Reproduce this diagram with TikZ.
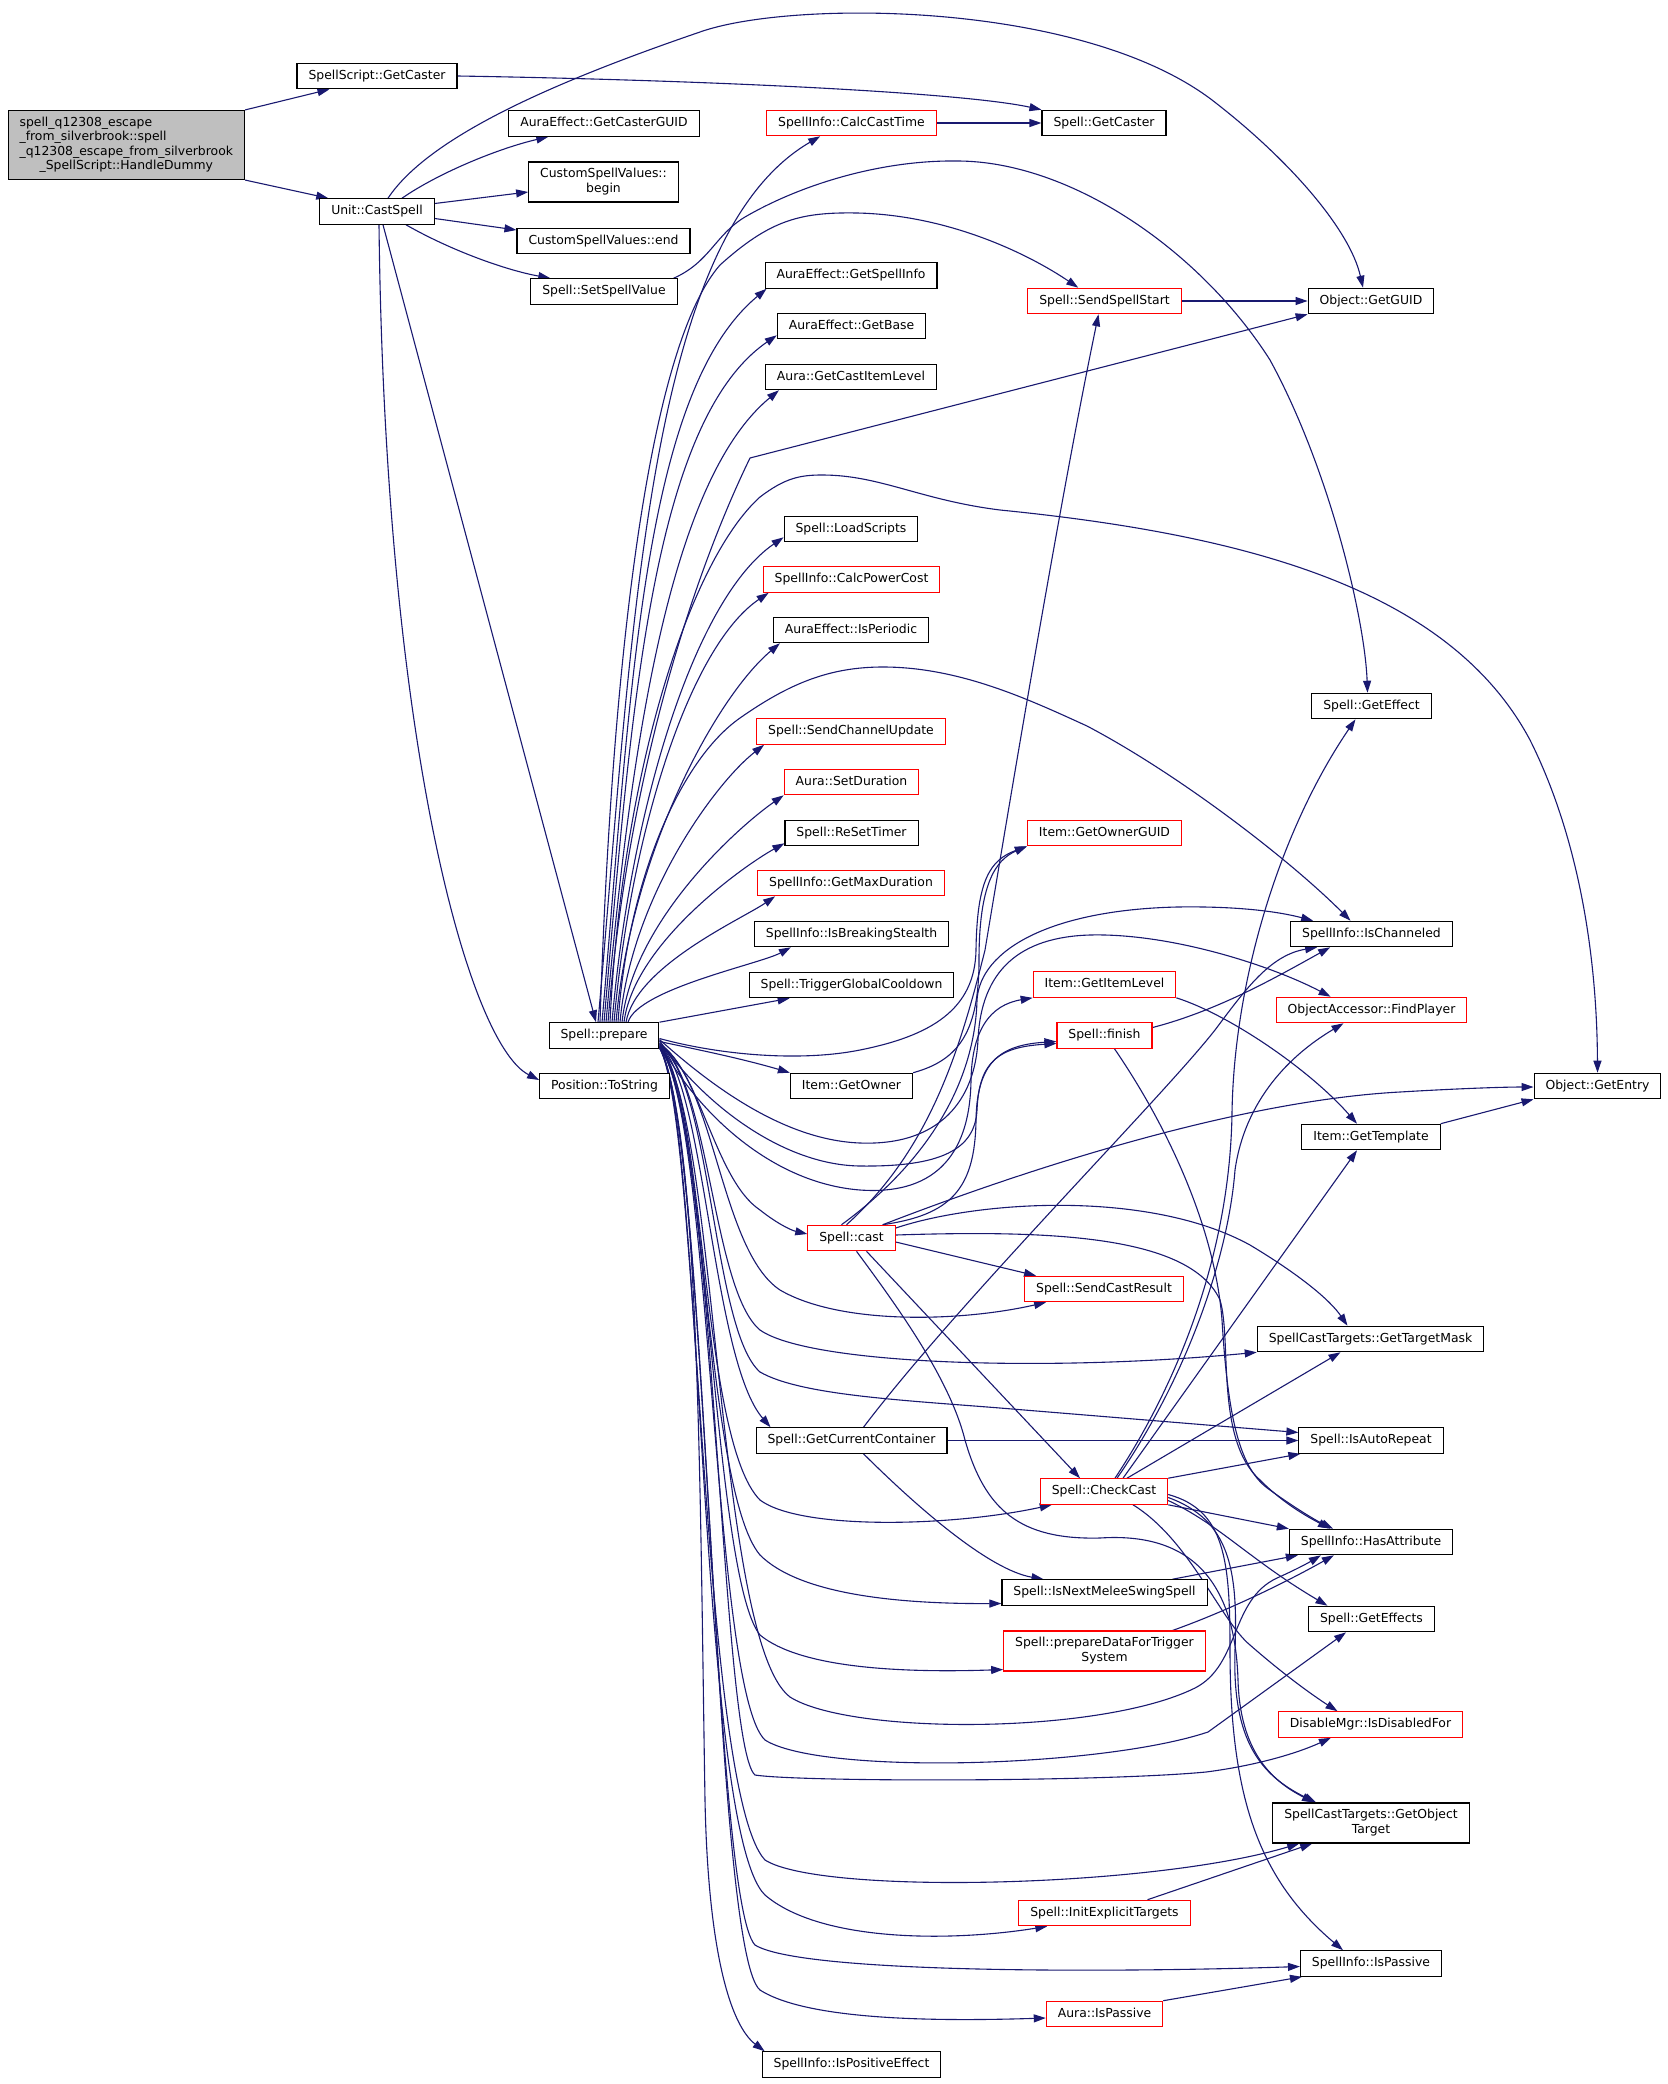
\documentclass[tikz,border=0pt]{standalone}
\usepackage{fontspec}
\setmainfont{DejaVu Sans}
\usetikzlibrary{arrows.meta,backgrounds}
\definecolor{edgec}{RGB}{25,25,112}
\definecolor{rootg}{RGB}{191,191,191}
\newcommand\gfont{\fontsize{12.4pt}{14.5pt}\selectfont}
\begin{document}
\begin{tikzpicture}[x=1pt,y=-1pt,
  nbox/.style={draw=black, line width=1.1pt, fill=white, inner xsep=11.5pt, inner ysep=0pt,
    minimum height=25.5pt, text height=9.4pt, text depth=2.6pt, font=\gfont},
  rbox/.style={nbox, draw=red},
  mline/.style={text height=, text depth=, inner ysep=5.5pt},
  conn/.style={draw=edgec, line width=1.1pt, -{Triangle[length=12pt,width=8pt]}}]
\useasboundingbox (0,0) rectangle (1667,2084);
% ---------- nodes ----------
\node[nbox, fill=rootg, mline] (root) at (126.3,145) {\begin{tabular}{@{}l@{}}spell\_q12308\_escape\\ \_from\_silverbrook::spell\\ \_q12308\_escape\_from\_silverbrook\\ \multicolumn{1}{@{}c@{}}{\_SpellScript::HandleDummy}\end{tabular}};
\node[nbox] (sgc) at (377,76) {SpellScript::GetCaster};
\node[nbox] (cast0) at (377,211.5) {Unit::CastSpell};
\node[nbox] (cguid) at (604,123.5) {AuraEffect::GetCasterGUID};
\node[nbox, mline] (begin) at (603.5,182) {\begin{tabular}{@{}l@{}}CustomSpellValues::\\ \multicolumn{1}{@{}c@{}}{begin}\end{tabular}};
\node[nbox] (endn) at (603.5,241) {CustomSpellValues::end};
\node[nbox] (ssv) at (604,291.5) {Spell::SetSpellValue};
\node[rbox] (cct) at (851.5,123) {SpellInfo::CalcCastTime};
\node[nbox] (gcaster) at (1104,123) {Spell::GetCaster};
\node[nbox] (gsi) at (851,275.5) {AuraEffect::GetSpellInfo};
\node[rbox] (sss) at (1104.5,301) {Spell::SendSpellStart};
\node[nbox] (guid) at (1371,301) {Object::GetGUID};
\node[nbox] (gbase) at (851.5,326) {AuraEffect::GetBase};
\node[nbox] (gcil) at (851,377) {Aura::GetCastItemLevel};
\node[nbox] (ls) at (851,529) {Spell::LoadScripts};
\node[rbox] (cpc) at (851.5,579.5) {SpellInfo::CalcPowerCost};
\node[nbox] (iper) at (851,630) {AuraEffect::IsPeriodic};
\node[rbox] (scu) at (851,731.5) {Spell::SendChannelUpdate};
\node[rbox] (sdur) at (851.5,782) {Aura::SetDuration};
\node[nbox] (rst) at (851.5,833) {Spell::ReSetTimer};
\node[rbox] (gmd) at (851,883) {SpellInfo::GetMaxDuration};
\node[nbox] (ibs) at (851.5,934) {SpellInfo::IsBreakingStealth};
\node[nbox] (tgc) at (851.5,985) {Spell::TriggerGlobalCooldown};
\node[nbox] (prep) at (604,1035.5) {Spell::prepare};
\node[nbox] (tostr) at (604.5,1086) {Position::ToString};
\node[nbox] (gowner) at (851.5,1086) {Item::GetOwner};
\node[nbox] (geff) at (1371.5,706) {Spell::GetEffect};
\node[rbox] (gog) at (1104.5,833) {Item::GetOwnerGUID};
\node[nbox] (ichan) at (1371.5,934) {SpellInfo::IsChanneled};
\node[rbox] (gil) at (1104.5,984.5) {Item::GetItemLevel};
\node[rbox] (fp) at (1371.5,1010) {ObjectAccessor::FindPlayer};
\node[rbox] (fin) at (1104.5,1035.5) {Spell::finish};
\node[nbox] (gent) at (1597.5,1086) {Object::GetEntry};
\node[nbox] (gtmp) at (1371,1137) {Item::GetTemplate};
\node[rbox] (cast) at (851.5,1238) {Spell::cast};
\node[rbox] (scr) at (1104,1289) {Spell::SendCastResult};
\node[nbox] (gtm) at (1370.5,1339) {SpellCastTargets::GetTargetMask};
\node[nbox] (gcc) at (851.5,1440.5) {Spell::GetCurrentContainer};
\node[nbox] (iar) at (1371,1440.5) {Spell::IsAutoRepeat};
\node[rbox] (cc) at (1104,1491.5) {Spell::CheckCast};
\node[nbox] (hattr) at (1371,1542) {SpellInfo::HasAttribute};
\node[nbox] (inms) at (1104.5,1592.5) {Spell::IsNextMeleeSwingSpell};
\node[nbox] (geffs) at (1371.5,1619) {Spell::GetEffects};
\node[rbox, mline] (pdts) at (1104.5,1651) {\begin{tabular}{@{}l@{}}Spell::prepareDataForTrigger\\ \multicolumn{1}{@{}c@{}}{System}\end{tabular}};
\node[rbox] (idf) at (1370.5,1724.5) {DisableMgr::IsDisabledFor};
\node[nbox, mline] (got) at (1371,1823) {\begin{tabular}{@{}l@{}}SpellCastTargets::GetObject\\ \multicolumn{1}{@{}c@{}}{Target}\end{tabular}};
\node[rbox] (iet) at (1104.5,1913) {Spell::InitExplicitTargets};
\node[nbox] (sip) at (1371,1963.5) {SpellInfo::IsPassive};
\node[rbox] (aip) at (1104.5,2014) {Aura::IsPassive};
\node[nbox] (ipe) at (851.5,2064.5) {SpellInfo::IsPositiveEffect};
% ---------- edges ----------
\begin{scope}[on background layer]
\fill[white] (0,0) rectangle (1667,2084);
\draw[conn] (root.north east) -- ([xshift=33pt]sgc.south west);
\draw[conn] (root.south east) -- ([xshift=9pt]cast0.north west);
\draw[conn] (sgc.east) .. controls (700,80) and (960,92) .. (gcaster.north west);
\draw[conn] (cct.east) -- (gcaster.west);
\draw[conn] ([xshift=25pt]cast0.north) .. controls (440,172) and (500,148) .. ([xshift=40pt]cguid.south west);
\draw[conn] ([yshift=8pt]cast0.east) -- ([yshift=-10pt]begin.west);
\draw[conn] ([yshift=-7pt]cast0.east) -- ([yshift=11pt]endn.west);
\draw[conn] ([xshift=29pt]cast0.south) .. controls (450,250) and (505,270) .. ([xshift=20pt]ssv.north west);
\draw[conn] ([xshift=6pt]cast0.south) -- ([xshift=-8pt]prep.north);
\draw[conn] ([xshift=2pt]cast0.south) .. controls (385,750) and (470,1045) .. ([yshift=6pt]tostr.west);
\draw[conn] ([xshift=11pt]cast0.north) .. controls (430,135) and (560,80) .. (700,32) .. controls (790,0) and (1080,0) .. (1212,100) .. controls (1290,160) and (1350,230) .. ([xshift=-8pt]guid.north);
\draw[conn] ([xshift=-4pt]ssv.north east) .. controls (710,262) and (715,235) .. (745,217) .. controls (800,185) and (880,160) .. (957,161) .. controls (1070,161) and (1200,250) .. (1270,360) .. controls (1330,470) and (1365,620) .. ([xshift=-4pt]geff.north);
% prepare: upper fan
\draw[conn] ([xshift=-6pt]prep.north) .. controls (633,626) and (647,237) .. ([xshift=54pt]cct.south west);
\draw[conn] ([xshift=-4pt]prep.north) .. controls (612,650) and (650,345) .. (720,265) .. controls (770,220) and (800,212) .. (857,213) .. controls (950,215) and (1030,255) .. ([xshift=51pt]sss.north west);
\draw[conn] ([xshift=-2pt]prep.north) .. controls (631,693) and (642,392) .. ([xshift=2pt]gsi.south west);
\draw[conn] (prep.north) .. controls (631,714) and (651,422) .. ([yshift=4pt]gbase.south west);
\draw[conn] ([xshift=2pt]prep.north) .. controls (631,739) and (671,479) .. ([xshift=14pt]gcil.south west);
\draw[conn] ([xshift=4pt]prep.north) .. controls (628,769) and (696,569) .. (750,458) -- (guid.south west);
\draw[conn] ([xshift=6pt]prep.north) .. controls (622,770) and (690,560) .. (760,497) .. controls (785,478) and (800,475) .. (822,475) .. controls (880,475) and (920,500) .. (1000,510) .. controls (1250,535) and (1450,590) .. (1530,740) .. controls (1580,840) and (1597,960) .. (gent.north);
\draw[conn] ([xshift=8pt]prep.north) .. controls (631,805) and (695,598) .. ([yshift=5pt]ls.south west);
\draw[conn] ([xshift=10pt]prep.north) .. controls (631,830) and (690,646) .. ([xshift=6pt]cpc.south west);
\draw[conn] ([xshift=12pt]prep.north) .. controls (631,853) and (716,697) .. ([xshift=7pt]iper.south west);
\draw[conn] ([xshift=14pt]prep.north) .. controls (628,880) and (680,760) .. (740,718) .. controls (790,683) and (830,667) .. (883,667) .. controls (960,667) and (1030,700) .. (1087,726) .. controls (1180,775) and (1290,860) .. ([xshift=-21pt]ichan.north);
\draw[conn] ([xshift=16pt]prep.north) .. controls (631,898) and (715,783) .. ([xshift=8pt]scu.south west);
\draw[conn] ([xshift=18pt]prep.north) .. controls (633,921) and (738,827) .. (sdur.south west);
\draw[conn] ([xshift=20pt]prep.north) .. controls (634,943) and (745,865) .. ([yshift=3pt]rst.south west);
\draw[conn] ([xshift=22pt]prep.north) .. controls (636,966) and (742,919) .. ([xshift=18pt]gmd.south west);
\draw[conn] ([xshift=24pt]prep.north) .. controls (638,989) and (760,964) .. ([xshift=37pt]ibs.south west);
\draw[conn] (prep.north east) -- ([xshift=41pt]tgc.south west);
% prepare: right side
\draw[conn] ([yshift=-6pt]prep.east) .. controls (690,1048) and (740,1058) .. (gowner.north west);
\draw[conn] ([yshift=-3pt]prep.east) .. controls (720,1055) and (800,1062) .. (860,1050) .. controls (930,1036) and (975,1010) .. (976,950) .. controls (977,880) and (990,860) .. (gog.south west);
\draw[conn] (gowner.north east) .. controls (960,1060) and (979,1030) .. (979,960) .. controls (979,885) and (995,860) .. (gog.south west);
\draw[conn] ([yshift=-4pt]prep.east) .. controls (705,1080) and (780,1140) .. (860,1143) .. controls (940,1146) and (975,1100) .. (978,1040) .. controls (981,970) and (1020,937) .. (1090,935) .. controls (1170,933) and (1270,965) .. ([xshift=55pt]fp.north west);
\draw[conn] ([yshift=-5pt]prep.east) .. controls (700,1100) and (780,1165) .. (860,1166) .. controls (940,1167) and (975,1150) .. (977,1110) .. controls (979,1060) and (1000,1047) .. ([yshift=-8pt]fin.west);
\draw[conn] ([yshift=-7pt]prep.east) .. controls (695,1110) and (770,1183) .. (860,1190) .. controls (930,1195) and (970,1160) .. (971,1080) .. controls (972,1030) and (990,1005) .. (gil.south west);
\draw[conn] ([yshift=-8pt]prep.east) .. controls (700,1070) and (715,1180) .. (760,1210) .. controls (775,1222) and (790,1230) .. ([yshift=4pt]cast.west);
\draw[conn] ([yshift=-9pt]prep.east) .. controls (715,1080) and (720,1250) .. (780,1290) .. controls (840,1325) and (960,1322) .. ([xshift=22pt]scr.south west);
\draw[conn] ([yshift=-9pt]prep.east) .. controls (710,1080) and (712,1290) .. (760,1330) .. controls (810,1365) and (1050,1372) .. (gtm.south west);
\draw[conn] ([yshift=-10pt]prep.east) .. controls (712,1080) and (712,1330) .. (760,1372) .. controls (800,1395) and (900,1400) .. (1000,1408) -- ([yshift=8pt]iar.west);
\draw[conn] ([yshift=-10pt]prep.east) .. controls (705,1080) and (712,1360) .. ([xshift=15pt]gcc.north west);
\draw[conn] ([yshift=-11pt]prep.east) .. controls (705,1090) and (700,1440) .. (760,1500) .. controls (800,1530) and (950,1527) .. ([xshift=12pt]cc.south west);
\draw[conn] ([yshift=-11pt]prep.east) .. controls (705,1100) and (705,1490) .. (760,1555) .. controls (800,1595) and (900,1604) .. ([yshift=-11pt]inms.west);
\draw[conn] ([yshift=-11pt]prep.east) .. controls (708,1100) and (712,1575) .. (760,1635) .. controls (800,1668) and (900,1673) .. ([yshift=2pt]pdts.south west);
\draw[conn] ([yshift=-12pt]prep.east) .. controls (712,1110) and (712,1690) .. (765,1740) .. controls (820,1775) and (1100,1768) .. (1208,1732) -- ([xshift=38pt]geffs.south west);
\draw[conn] ([yshift=-12pt]prep.east) .. controls (715,1110) and (720,1745) .. (755,1775) .. controls (800,1782) and (1100,1782) .. (1206,1772) .. controls (1260,1765) and (1300,1752) .. ([xshift=53pt]idf.south west);
\draw[conn] ([yshift=-12pt]prep.east) .. controls (718,1110) and (715,1640) .. (790,1697) .. controls (850,1735) and (1100,1735) .. (1195,1688) .. controls (1240,1665) and (1230,1600) .. (1277,1578) .. controls (1295,1570) and (1308,1563) .. ([xshift=32pt]hattr.south west);
\draw[conn] ([yshift=-12pt]prep.east) .. controls (700,1120) and (700,1790) .. (765,1860) .. controls (820,1895) and (1150,1888) .. ([xshift=27pt]got.south west);
\draw[conn] ([yshift=-12pt]prep.east) .. controls (703,1120) and (698,1830) .. (765,1895) .. controls (820,1942) and (950,1942) .. ([xshift=29pt]iet.south west);
\draw[conn] ([yshift=-12pt]prep.east) .. controls (706,1120) and (712,1900) .. (755,1945) .. controls (800,1973) and (1100,1973) .. ([yshift=-3pt]sip.west);
\draw[conn] ([yshift=-12pt]prep.east) .. controls (709,1130) and (712,1950) .. (760,1990) .. controls (810,2022) and (950,2021) .. ([yshift=-4pt]aip.west);
\draw[conn] ([yshift=-12pt]prep.east) .. controls (700,1130) and (700,1500) .. (705,1800) .. controls (708,1950) and (730,2025) .. ([xshift=3pt]ipe.north west);
% Spell::cast
\draw[conn] ([xshift=-5pt]cast.north) .. controls (930,1150) and (960,1050) .. (985,950) .. controls (1010,800) and (1060,500) .. ([xshift=-6pt]sss.south);
\draw[conn] ([xshift=-10pt]cast.north) .. controls (930,1160) and (975,1080) .. (977,1000) .. controls (980,950) and (1050,910) .. (1177,907) .. controls (1240,906) and (1280,912) .. ([xshift=23pt]ichan.north west);
\draw[conn] ([xshift=-13pt]cast.north east) .. controls (950,1215) and (975,1190) .. (976,1120) .. controls (977,1062) and (1000,1045) .. ([yshift=-6pt]fin.west);
\draw[conn] ([xshift=-13pt]cast.north east) .. controls (1050,1160) and (1250,1100) .. (1400,1092) .. controls (1450,1089) and (1500,1087) .. ([yshift=-1pt]gent.west);
\draw[conn] ([yshift=10pt]cast.east) .. controls (980,1200) and (1150,1190) .. (1250,1245) .. controls (1300,1275) and (1330,1300) .. ([xshift=-23pt]gtm.north);
\draw[conn] ([yshift=-4pt]cast.east) -- ([xshift=12pt]scr.north west);
\draw[conn] ([yshift=3pt]cast.east) .. controls (1050,1230) and (1190,1235) .. (1220,1300) .. controls (1232,1340) and (1215,1440) .. (1260,1480) .. controls (1285,1505) and (1310,1518) .. ([xshift=-41pt]hattr.north);
\draw[conn] ([xshift=15pt]cast.south) -- ([xshift=-24pt]cc.north);
\draw[conn] ([xshift=5pt]cast.south) .. controls (900,1310) and (950,1380) .. (965,1440) .. controls (985,1510) and (1020,1540) .. (1100,1538) .. controls (1190,1532) and (1235,1580) .. (1238,1680) .. controls (1240,1750) and (1270,1780) .. ([xshift=-57pt]got.north);
% Spell::CheckCast
\draw[conn] ([xshift=11pt]cc.north) .. controls (1180,1380) and (1230,1250) .. (1232,1113) .. controls (1234,980) and (1280,830) .. ([xshift=-16pt]geff.south);
\draw[conn] ([xshift=13pt]cc.north) .. controls (1185,1380) and (1228,1260) .. (1235,1170) .. controls (1245,1100) and (1290,1055) .. ([xshift=-28pt]fp.south);
\draw[conn] ([xshift=19pt]cc.north) -- ([xshift=-14pt]gtmp.south);
\draw[conn] ([xshift=23pt]cc.north) -- ([xshift=-30pt]gtm.south);
\draw[conn] (cc.north east) -- ([xshift=2pt]iar.south west);
\draw[conn] (cc.south east) -- (hattr.north west);
\draw[conn] ([yshift=-9pt]cc.east) .. controls (1220,1525) and (1250,1560) .. ([xshift=-44pt]geffs.north);
\draw[conn] ([xshift=29pt]cc.south) .. controls (1190,1540) and (1220,1620) .. (1250,1645) .. controls (1290,1680) and (1320,1700) .. ([xshift=-33pt]idf.north);
\draw[conn] ([yshift=-6pt]cc.east) .. controls (1230,1520) and (1238,1570) .. (1235,1650) .. controls (1232,1740) and (1260,1775) .. ([xshift=-55pt]got.north);
\draw[conn] ([yshift=-3pt]cc.east) .. controls (1225,1510) and (1230,1560) .. (1230,1650) .. controls (1230,1800) and (1260,1880) .. ([xshift=-28pt]sip.north);
% others
\draw[conn] (sss.east) -- (guid.west);
\draw[conn] (gil.south east) .. controls (1230,1015) and (1310,1070) .. ([xshift=-14pt]gtmp.north);
\draw[conn] (gtmp.north east) -- (gent.south west);
\draw[conn] ([yshift=8pt]fin.east) .. controls (1220,1010) and (1280,975) .. ([xshift=40pt]ichan.south west);
\draw[conn] ([xshift=10pt]fin.south) .. controls (1170,1130) and (1215,1230) .. (1222,1320) .. controls (1228,1420) and (1240,1470) .. (1270,1490) .. controls (1295,1508) and (1315,1520) .. ([xshift=-38pt]hattr.north);
\draw[conn] ([xshift=12pt]gcc.north) .. controls (960,1300) and (1160,1100) .. (1215,1030) .. controls (1245,990) and (1270,955) .. ([xshift=27pt]ichan.south west);
\draw[conn] (gcc.east) -- (iar.west);
\draw[conn] ([xshift=12pt]gcc.south) .. controls (920,1510) and (990,1570) .. ([xshift=-61pt]inms.north);
\draw[conn] ([xshift=68pt]inms.north) -- ([xshift=9pt]hattr.south west);
\draw[conn] ([xshift=68pt]pdts.north) .. controls (1230,1610) and (1290,1580) .. ([xshift=45pt]hattr.south west);
\draw[conn] ([xshift=43pt]iet.north) -- ([xshift=40pt]got.south west);
\draw[conn] (aip.north east) -- ([xshift=2pt]sip.south west);
\end{scope}
\end{tikzpicture}
\end{document}
